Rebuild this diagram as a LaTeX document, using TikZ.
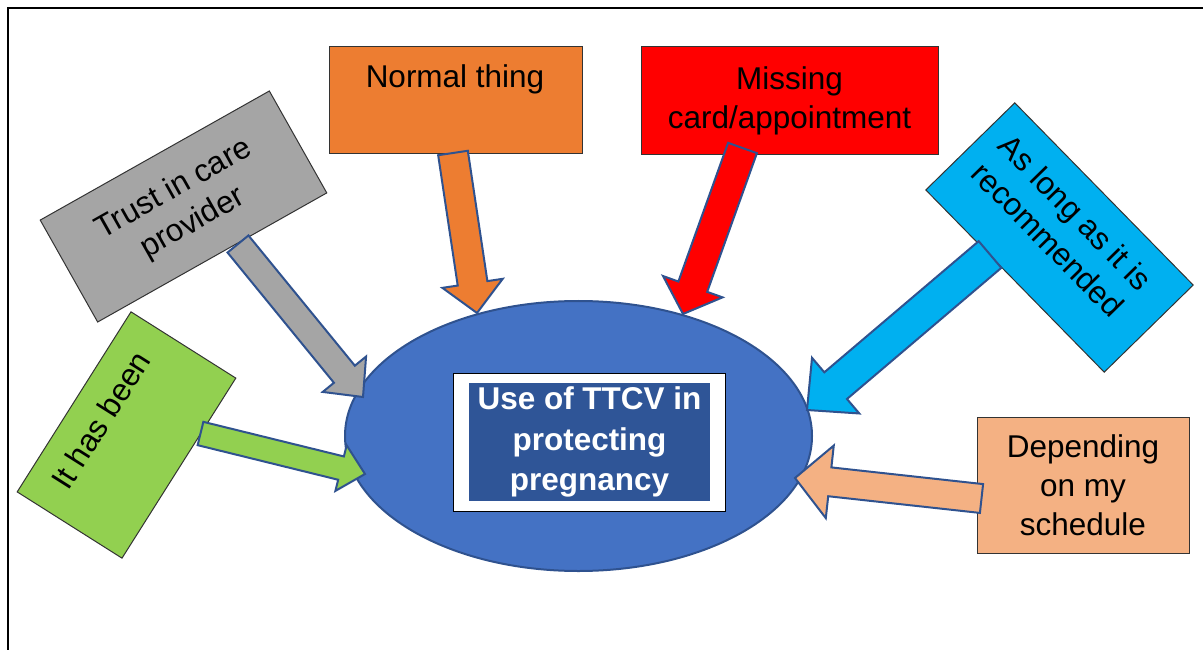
\documentclass[tikz,border=0pt]{standalone}
\usepackage{fontspec}
\setmainfont{Liberation Sans}
\usetikzlibrary{calc,shapes.geometric}

\definecolor{cOrange}{HTML}{ED7D31}
\definecolor{cRed}{HTML}{FF0000}
\definecolor{cGray}{HTML}{A5A5A5}
\definecolor{cGreen}{HTML}{92D050}
\definecolor{cSky}{HTML}{00B0F0}
\definecolor{cPeach}{HTML}{F4B183}
\definecolor{cCore}{HTML}{4472C4}
\definecolor{cCoreEdge}{HTML}{2F528F}
\definecolor{cInner}{HTML}{2F5597}

\newcommand\bodyfont{\fontsize{31.6}{39.1}\selectfont}
\newcommand\corefont{\fontsize{31.6}{40.5}\selectfont\bfseries}

% block arrow: #1 style, #2 tail, #3 tip, #4 half shaft width,
% #5 half head width, #6 head length
\newcommand\blockarrow[6]{%
  \path ($(#3)!#6!(#2)$) coordinate (neck);
  \draw[#1] ($(#2)!#4!90:(#3)$) -- ($(neck)!#4!90:(#3)$)
    -- ($(neck)!#5!90:(#3)$) -- (#3) -- ($(neck)!#5!-90:(#3)$)
    -- ($(neck)!#4!-90:(#3)$) -- ($(#2)!#4!-90:(#3)$) -- cycle;
}

\tikzset{
  box/.style={draw=black!80, line width=1bp, inner sep=0pt,
    font=\bodyfont, align=center, text=black},
  caption/.style={font=\bodyfont, align=center, inner sep=0pt, text=black},
  flow/.style={draw=cCoreEdge, line width=2bp, line join=miter},
}

\begin{document}
\begin{tikzpicture}[x=1bp, y=-1bp]
\useasboundingbox (0,0) rectangle (1203,650);

% frame
\draw[line width=2.2bp] (7.7,650) -- (7.7,7.7) -- (1203,7.7);

% central ellipse with titled panel
\node[ellipse, fill=cCore, draw=cCoreEdge, line width=2bp, inner sep=0pt,
      minimum width=467bp, minimum height=270bp] (core) at (578.5,436) {};
\node[draw=black, line width=1bp, fill=white, inner sep=0pt,
      minimum width=272bp, minimum height=138bp] (panel) at (589,442) {};
\node[fill=cInner, inner sep=0pt, minimum width=241bp, minimum height=118bp,
      font=\corefont, text=white, align=center] (title) at (589.5,442)
      {Use of TTCV in\\protecting\\pregnancy};

% factor boxes
\node[box, fill=cOrange, minimum width=253bp, minimum height=106bp]
      (normal) at (455.5,100) {};
\node[caption, anchor=base] (normal-text) at (455,88) {Normal thing};

\node[box, fill=cRed, minimum width=297bp, minimum height=107bp]
      (missing) at (789.5,100.5) {Missing\\card/appointment};

\node[box, fill=cGray, rotate=29.4, minimum width=263bp, minimum height=117bp]
      (trust) at (183.5,206.5) {Trust in care\\provider};

\node[box, fill=cGreen, rotate=57.7, minimum width=213bp, minimum height=124bp]
      (been) at (126.5,435) {};
\node[caption, rotate=57.7] (been-text) at (101,420) {It has been};

\node[box, fill=cSky, rotate=-45.6, minimum width=255bp, minimum height=124.5bp]
      (advice) at (1059.5,237.5) {};
\node[caption, rotate=-45.6] (advice-text) at (1062,226)
      {As long as it is\\recommended};

\node[box, fill=cPeach, minimum width=212bp, minimum height=136bp]
      (sched) at (1083,485) {Depending\\on my\\schedule};

% arrow ends
\coordinate (normal-tail) at (453,153);
\coordinate (normal-tip) at (477,313);
\coordinate (missing-tail) at (742.5,148);
\coordinate (missing-tip) at (683,314);
\coordinate (trust-tail) at (238,244);
\coordinate (trust-tip) at (363,397);
\coordinate (been-tail) at (200.5,433.5);
\coordinate (been-tip) at (365,474);
\coordinate (advice-tail) at (990,254.5);
\coordinate (advice-tip) at (807,410);
\coordinate (sched-tail) at (981.5,498.5);
\coordinate (sched-tip) at (795,478);

% arrows into the ellipse
\blockarrow{flow, fill=cOrange}{normal-tail}{normal-tip}{15bp}{30.5bp}{30bp}
\blockarrow{flow, fill=cRed}{missing-tail}{missing-tip}{15.3bp}{31.6bp}{29bp}
\blockarrow{flow, fill=cGray}{trust-tail}{trust-tip}{13.5bp}{28bp}{29.4bp}
\blockarrow{flow, fill=cGreen}{been-tail}{been-tip}{12bp}{23.5bp}{24.7bp}
\blockarrow{flow, fill=cSky}{advice-tail}{advice-tip}{17.5bp}{36.5bp}{37.6bp}
\blockarrow{flow, fill=cPeach}{sched-tail}{sched-tip}{14.5bp}{36.5bp}{35bp}
\end{tikzpicture}
\end{document}
